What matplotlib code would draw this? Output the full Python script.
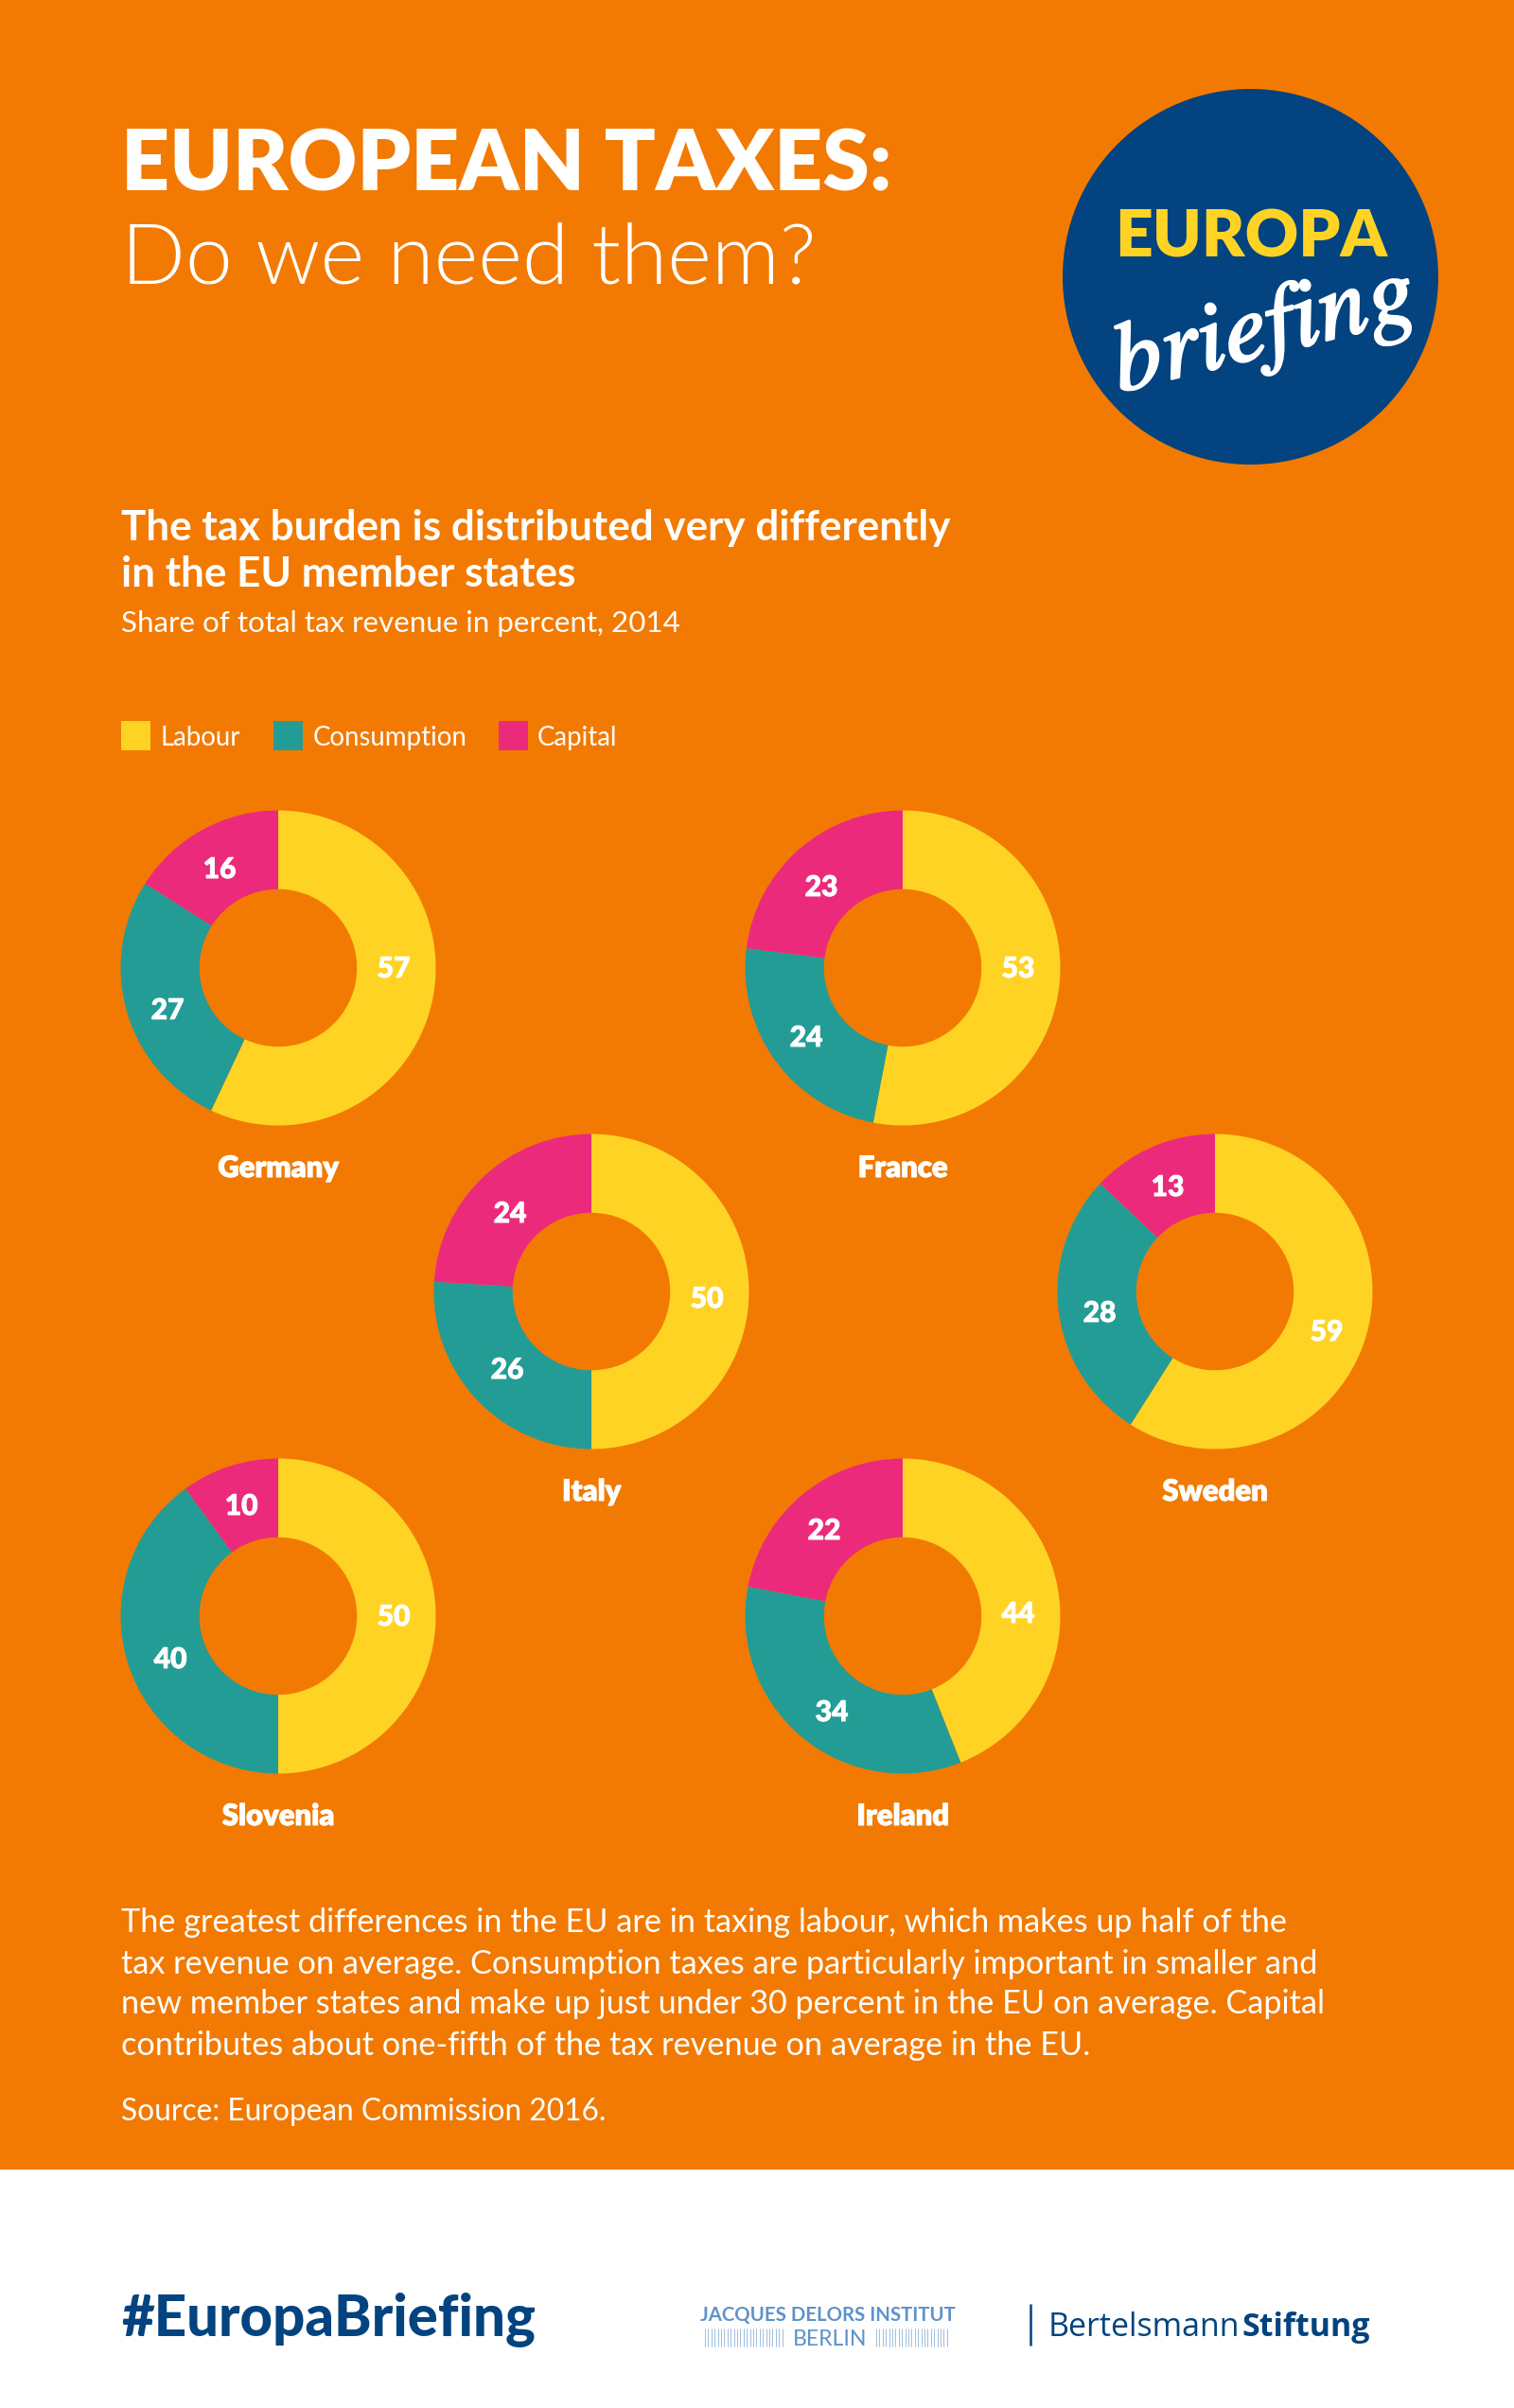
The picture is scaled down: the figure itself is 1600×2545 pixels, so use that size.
#! coding:utf-8
import numpy as np
import matplotlib
matplotlib.use("Agg")
import matplotlib.pyplot as plt
from matplotlib import patheffects
from matplotlib.patches import Circle, Rectangle

plt.rcParams['font.family'] = ['Lato', 'DejaVu Sans']

# data
countries = ["Germany", "France", "Italy", "Sweden", "Slovenia", "Ireland"]
labour = [57, 53, 50, 59, 50, 44]
consumption = [27, 24, 26, 28, 40, 34]
capital = [16, 23, 24, 13, 10, 22]
series_names = ["Labour", "Consumption", "Capital"]

body_lines = [
    "The greatest differences in the EU are in taxing labour, which makes up half of the",
    "tax revenue on average. Consumption taxes are particularly important in smaller and",
    "new member states and make up just under 30 percent in the EU on average. Capital",
    "contributes about one-fifth of the tax revenue on average in the EU.",
]

# colours
ORANGE = "#f27a02"
YELLOW = "#ffd324"
TEAL = "#239c96"
PINK = "#ec2a7c"
NAVY = "#03437f"
LIGHTBLUE = "#5d92cb"
slice_colors = [YELLOW, TEAL, PINK]

# layout, everything in pixels of the final picture
W, H = 1600, 2545
R = 166.5
centers = [(294, 1023), (954, 1023), (625, 1365), (1284, 1365), (294, 1708), (954, 1708)]
# the value labels sit by hand in the original, not on the slice middle
label_offsets = [
    [(122, 1), (-117, 45), (-62, -104)],
    [(122, 1), (-102, 74), (-86, -85)],
    [(122, 8), (-89, 83), (-86, -82)],
    [(118, 43), (-122, 23), (-50, -110)],
    [(122, 1), (-114, 46), (-39, -116)],
    [(122, -2), (-75, 102), (-83, -90)],
]


def px(size):
    # font size from pixels to points at dpi 100
    return size * 0.72


# labels in the original are a bit heavier than Lato gives here
thicker = [patheffects.withStroke(linewidth=0.7, foreground="white")]

fig = plt.figure(figsize=(W / 100, H / 100), dpi=100, facecolor="white")

bg = fig.add_axes([0, 0, 1, 1])
bg.set_xlim(0, W)
bg.set_ylim(H, 0)
bg.axis("off")
bg.add_patch(Rectangle((0, 0), W, 2293, color=ORANGE, lw=0))

# heading
bg.text(128, 202, "EUROPEAN TAXES:", color="white", fontsize=px(89.3), fontweight="heavy")
bg.text(128, 300, "Do we need them?", color="white", fontsize=px(89.4), fontweight=300)
bg.text(128, 571, "The tax burden is distributed very differently", color="white",
        fontsize=px(44), fontweight="bold")
bg.text(128, 620, "in the EU member states", color="white", fontsize=px(44), fontweight="bold")
bg.text(128, 668, "Share of total tax revenue in percent, 2014", color="white", fontsize=px(31.4))

# logo
bg.add_patch(Circle((1321.5, 292.5), 198.5, color=NAVY, lw=0))
bg.text(1322, 272, "EUROPA", color=YELLOW, fontsize=px(69.5), fontweight="heavy", ha="center")
bg.text(1336, 350, "briefing", color="white", fontsize=px(103), family="STIXGeneral",
        style="italic", rotation=14, ha="center", va="center", rotation_mode="anchor",
        path_effects=[patheffects.withStroke(linewidth=2, foreground="white")])

# legend
for name, color, sx, tx in zip(series_names, slice_colors, [128, 289, 527], [169, 331, 568]):
    bg.add_patch(Rectangle((sx, 762), 31, 31, color=color, lw=0))
    bg.text(tx, 788, name, color="white", fontsize=px(27.6))

# donuts
for i, country in enumerate(countries):
    cx, cy = centers[i]
    ax = fig.add_axes([(cx - R) / W, 1 - (cy + R) / H, 2 * R / W, 2 * R / H])
    values = [labour[i], consumption[i], capital[i]]
    ax.pie(values, colors=slice_colors, startangle=90, counterclock=False, radius=1,
           wedgeprops=dict(width=0.5, linewidth=0))
    ax.set_xlim(-1, 1)
    ax.set_ylim(-1, 1)
    for v, (dx, dy) in zip(values, label_offsets[i]):
        ax.text(dx / R, -dy / R, str(v), color="white", fontsize=px(30), fontweight="black",
                ha="center", va="center", path_effects=thicker)
    ax.text(0, -212 / R, country, color="white", fontsize=px(31), fontweight="heavy",
            ha="center", va="center", clip_on=False, path_effects=thicker)

# text below
for line, y in zip(body_lines, [2042, 2086, 2128, 2172]):
    bg.text(128, y, line, color="white", fontsize=px(34.3))
bg.text(128, 2241, "Source: European Commission 2016.", color="white", fontsize=px(31.6))

# footer
bg.text(128, 2469, "#EuropaBriefing", color=NAVY, fontsize=px(60), fontweight="black")
bg.text(875, 2453, "JACQUES DELORS INSTITUT", color=LIGHTBLUE, fontsize=px(20.4), fontweight="bold",
        ha="center")
bg.text(877, 2479, "BERLIN", color=LIGHTBLUE, fontsize=px(23), ha="center")
bg.vlines(np.arange(745, 830, 3.4), 2461, 2480, color=LIGHTBLUE, lw=0.6, alpha=0.7)
bg.vlines(np.arange(926, 1004, 3.4), 2461, 2480, color=LIGHTBLUE, lw=0.6, alpha=0.7)
bg.vlines(1089, 2435, 2479, color=NAVY, lw=1.8)
t = bg.text(1108, 2469, "Bertelsmann", color=NAVY, fontsize=px(34), family="Open Sans")
bbox = t.get_window_extent(fig.canvas.get_renderer())
bg.text(bbox.x1 + 2, 2469, "Stiftung", color=NAVY, fontsize=px(34), family="Open Sans",
        fontweight="bold")

fig.savefig("out.png", dpi=100, facecolor="white")
